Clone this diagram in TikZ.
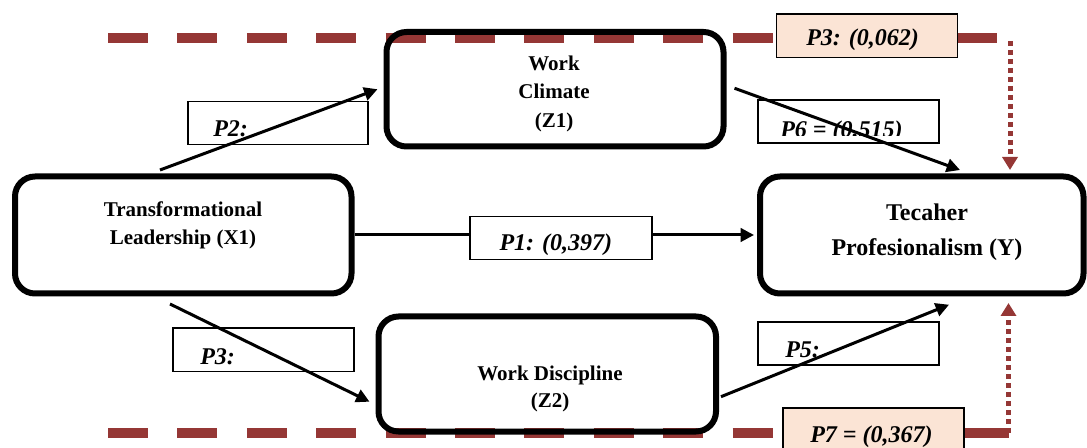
\documentclass[tikz,border=0pt]{standalone}
\usepackage{fontspec}
\setmainfont{Liberation Serif}
\usetikzlibrary{arrows.meta,calc}
\definecolor{brn}{HTML}{953735}
\definecolor{peach}{HTML}{FBE4D5}
\begin{document}
\begin{tikzpicture}[x=0.75pt,y=-0.75pt,
  mainbox/.style={draw=black,line width=4.5pt,rounded corners=15pt,inner sep=0pt},
  mtext/.style={align=center,font=\fontsize{15.75}{21}\selectfont\bfseries,inner sep=0pt},
  lbox/.style={draw=black,line width=1.1pt,fill=white,inner sep=0pt},
  pbox/.style={draw=black,line width=1.1pt,fill=peach,inner sep=0pt},
  ltext/.style={font=\fontsize{18}{20}\selectfont\bfseries\itshape,inner sep=0pt,anchor=base west},
  arr/.style={draw=black,line width=2.25pt,-{Triangle[length=10pt,width=10pt]}},
  thickdash/.style={draw=brn,line width=7.5pt,dash pattern=on 30pt off 22.05pt},
  thicksolid/.style={draw=brn,line width=7.5pt},
  dotarr/.style={draw=brn,line width=3.75pt,dash pattern=on 3.75pt off 3pt,-{Triangle[length=9.75pt,width=11.25pt]}}
]
\useasboundingbox (0,0) rectangle (1087,448);
\clip (0,0) rectangle (1087,448);

% brown dashed guide lines
\coordinate (ta) at (108,38);
\coordinate (tb) at (776,38);
\coordinate (tc) at (957,38);
\coordinate (td) at (997,38);
\coordinate (ba) at (108,433);
\coordinate (bb) at (783,433);
\coordinate (bc) at (964,433);
\coordinate (bd) at (1008.5,433);
\draw[thickdash] (ta) -- (tb);
\draw[thickdash] (ba) -- (bb);
\draw[thicksolid] (tc) -- (td);
\draw[thicksolid] (bc) -- (bd);

% main boxes
\node[mainbox,minimum width={336.5*0.75pt},minimum height={117*0.75pt}] (X1) at (183.25,235) {};
\node[mainbox,minimum width={337*0.75pt},minimum height={114.5*0.75pt}] (Z1) at (555,89.25) {};
\node[mainbox,minimum width={337.5*0.75pt},minimum height={115*0.75pt}] (Z2) at (547.25,374) {};
\node[mainbox,minimum width={323.5*0.75pt},minimum height={117*0.75pt}] (Y) at (921.75,235) {};

\node[mtext] (x1t) at (183,225.7) {Transformational\\Leadership (X1)};
\node[mtext,font=\fontsize{15.75}{21.4}\selectfont\bfseries] (z1t) at (554,93.5) {Work\\Climate\\(Z1)};
\node[mtext,font=\fontsize{15.75}{20.25}\selectfont\bfseries] (z2t) at (550,388.5) {Work Discipline\\(Z2)};
\node[mtext,font=\fontsize{18}{26.25}\selectfont\bfseries] (yt) at (927,231.8) {Tecaher\\Profesionalism (Y)};

% direct path X1 -> Y (behind P1 label)
\draw[arr] (X1.east) -- ($(Y.west)+(-3,0)$);

% label boxes
\node[lbox,minimum width={180*0.75pt},minimum height={42.6*0.75pt}] (p2b) at (278,123) {};
\node[lbox,minimum width={181*0.75pt},minimum height={43*0.75pt}] (p6b) at (848.5,121.5) {};
\node[lbox,minimum width={182*0.75pt},minimum height={42.6*0.75pt}] (p1b) at (561,238) {};
\node[lbox,minimum width={181*0.75pt},minimum height={43.7*0.75pt}] (p3b) at (263.5,349.85) {};
\node[lbox,minimum width={181*0.75pt},minimum height={43*0.75pt}] (p5b) at (848.5,343.5) {};
\node[pbox,minimum width={181*0.75pt},minimum height={43.3*0.75pt}] (p3t) at (867.2,35.65) {};
\node[pbox,minimum width={181*0.75pt},minimum height={43*0.75pt}] (p7b) at (873.5,429.5) {};

\node[ltext] (p2l) at (213,137) {P2:};
\begin{scope}
\clip (758,100) rectangle (939,135.5);
\node[ltext] (p6l) at (780,137.5) {P6 = (0.515)};
\end{scope}
\node[ltext] (p1l) at (499.3,251) {P1: (0,397)};
\node[ltext] (p3l) at (200,364) {P3:};
\node[ltext] (p5l) at (785,358) {P5:};
\node[ltext] (p3tl) at (806,46) {P3: (0,062)};
\node[ltext] (p7l) at (810,442) {P7 = (0,367)};

% diagonal arrows
\draw[arr] ($(X1.north)+(-23.25,-3.5)$) -- ($(Z1.west)+(-6,0)$);
\draw[arr] ($(Z1.east)+(8,-1)$) -- ($(Y.north)+(38.25,-3.5)$);
\draw[arr] ($(X1.south)+(-13.25,7.5)$) -- ($(Z2.west)+(-6,27.7)$);
\draw[arr] ($(Z2.east)+(2,22.7)$) -- ($(Y.south)+(27.25,8.2)$);

% dotted brown arrows
\coordinate (vt) at (1010,41);
\coordinate (vtend) at ($(Y.north)+(88.25,-3.5)$);
\coordinate (vbend) at ($(Y.south)+(86.75,6.5)$);
\draw[dotarr] (vt) -- (vtend);
\draw[dotarr] (bd) -- (vbend);
\end{tikzpicture}
\end{document}
